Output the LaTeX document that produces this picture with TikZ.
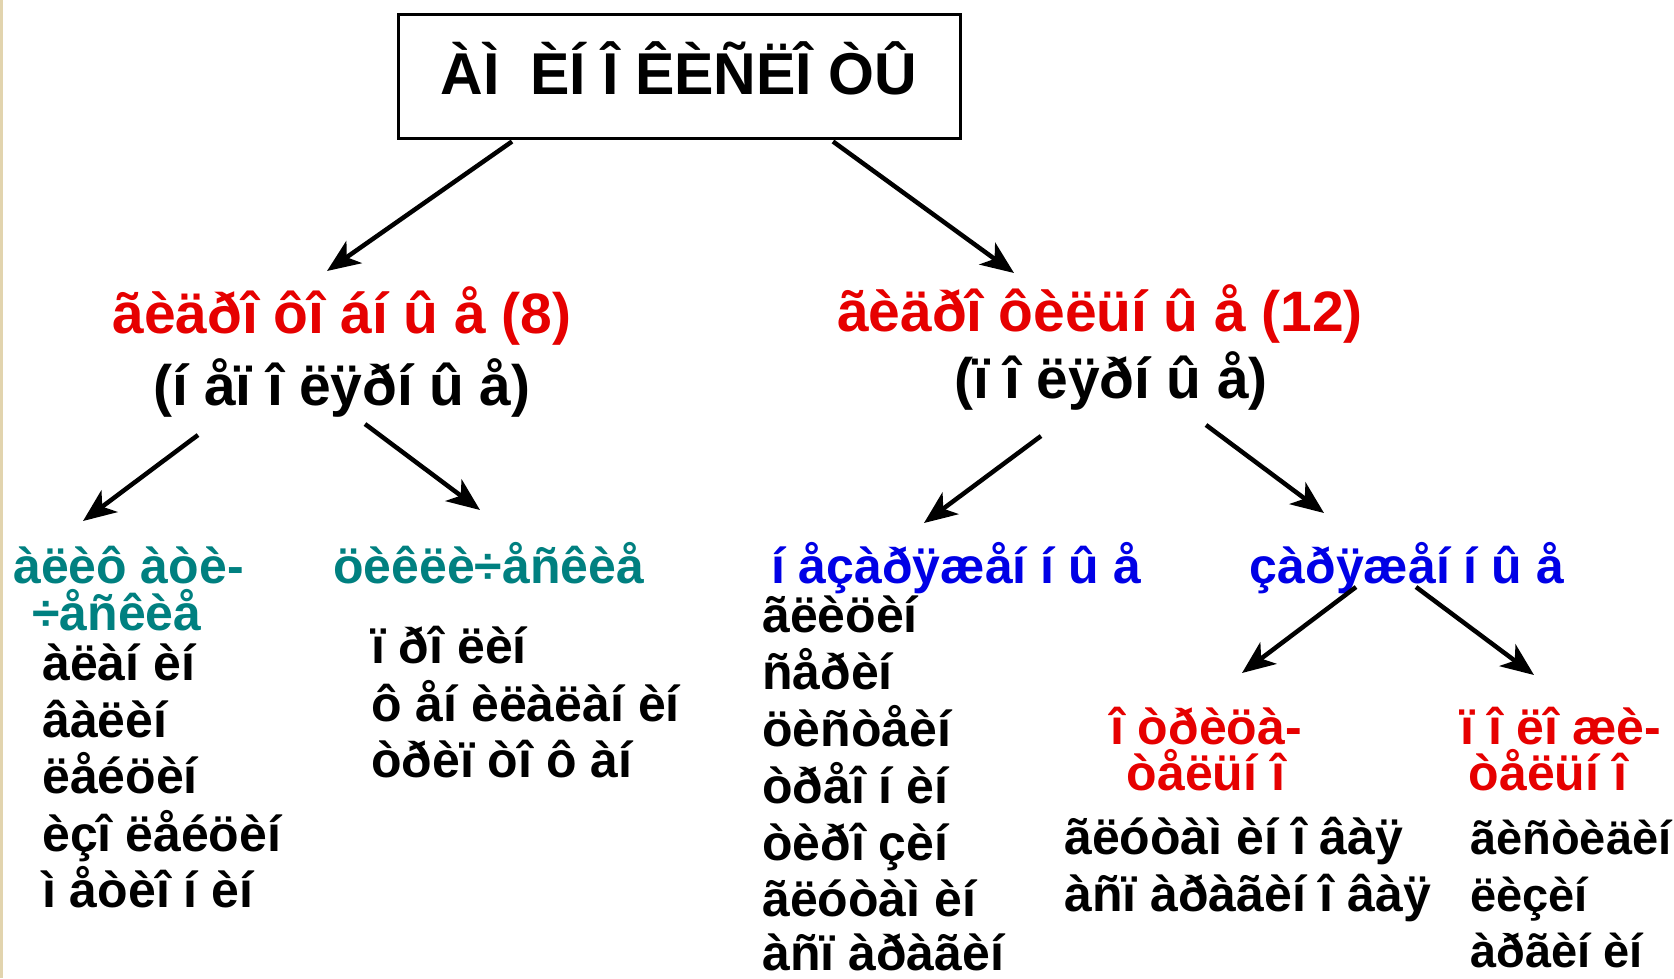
\documentclass[tikz,border=0pt]{standalone}
\usepackage{fontspec}
\setmainfont{Liberation Sans}
\usetikzlibrary{arrows.meta,calc}
\definecolor{hdred}{RGB}{230,0,0}
\definecolor{hdteal}{RGB}{0,128,128}
\definecolor{hdblue}{RGB}{0,0,230}
\definecolor{edgetan}{RGB}{226,212,174}
\begin{document}
\begin{tikzpicture}[x=1pt,y=-1pt,
  every node/.style={inner sep=0pt},
  topbox/.style={draw,line width=3pt,minimum width=562pt,minimum height=124pt},
  toptext/.style={anchor=base,font=\fontsize{59}{59}\selectfont\bfseries},
  grouptext/.style={anchor=base,font=\fontsize{57}{57}\selectfont\bfseries},
  subtext/.style={font=\fontsize{50}{50}\selectfont\bfseries},
  itemtext/.style={anchor=base west,font=\fontsize{50}{50}\selectfont\bfseries},
  arr/.style={line width=4.5pt,-{Stealth[length=33pt,width=27pt,inset=9pt]}}]
\useasboundingbox (0,0) rectangle (1674,978);
\fill[white] (0,0) rectangle (1674,978);
\fill[edgetan] (0,0) rectangle (3,978);

% root
\node[topbox] (title) at (679,76) {};
\node[toptext] (titletext) at (679,94) {ÀÌ\kern14pt{} ÈÍ Î ÊÈÑËÎ ÒÛ};

% second level
\node[grouptext,text=hdred] (hyd1) at (342,333) {ãèäðî ôî áí û å (8)};
\node[grouptext] (np) at (342,405) {(í åï î ëÿðí û å)};
\node[grouptext,text=hdred] (hyd2) at (1100,331) {ãèäðî ôèëüí û å (12)};
\node[grouptext] (pol) at (1111,398) {(ï î ëÿðí û å)};

% non-polar branches
\node[subtext,anchor=base west,text=hdteal] (ali1) at (13,583) {àëèô àòè-};
\node[subtext,anchor=base west,text=hdteal] (ali2) at (32,630) {÷åñêèå};
\node[itemtext] (a1) at (42,680) {àëàí èí};
\node[itemtext] (a2) at (42,737) {âàëèí};
\node[itemtext] (a3) at (42,793) {ëåéöèí};
\node[itemtext] (a4) at (42,851) {èçî ëåéöèí};
\node[itemtext] (a5) at (42,907) {ì åòèî í èí};

\node[subtext,anchor=base west,text=hdteal] (cyc) at (333,583) {öèêëè÷åñêèå};
\node[itemtext] (c1) at (371,663) {ï ðî ëèí};
\node[itemtext] (c2) at (371,721) {ô åí èëàëàí èí};
\node[itemtext] (c3) at (371,777) {òðèï òî ô àí};

% polar branches
\node[subtext,anchor=base west,text=hdblue] (unch) at (771,583) {í åçàðÿæåí í û å};
\node[itemtext] (u1) at (762,632) {ãëèöèí};
\node[itemtext] (u2) at (762,689) {ñåðèí};
\node[itemtext] (u3) at (762,746) {öèñòåèí};
\node[itemtext] (u4) at (762,803) {òðåî í èí};
\node[itemtext] (u5) at (762,860) {òèðî çèí};
\node[itemtext] (u6) at (762,916) {ãëóòàì èí};
\node[itemtext] (u7) at (762,970) {àñï àðàãèí};

\node[subtext,anchor=base,text=hdblue] (chg) at (1407,583) {çàðÿæåí í û å};

\node[subtext,anchor=base,text=hdred] (neg1) at (1206,744) {î òðèöà-};
\node[subtext,anchor=base,text=hdred] (neg2) at (1206,790) {òåëüí î};
\node[itemtext] (n1) at (1064,854) {ãëóòàì èí î âàÿ};
\node[itemtext] (n2) at (1064,911) {àñï àðàãèí î âàÿ};

\node[subtext,anchor=base,text=hdred] (pos1) at (1561,744) {ï î ëî æè-};
\node[subtext,anchor=base,text=hdred] (pos2) at (1548,790) {òåëüí î};
\node[itemtext,font=\fontsize{47}{47}\selectfont\bfseries] (p1) at (1470,854) {ãèñòèäèí};
\node[itemtext,font=\fontsize{47}{47}\selectfont\bfseries] (p2) at (1470,911) {ëèçèí};
\node[itemtext,font=\fontsize{47}{47}\selectfont\bfseries] (p3) at (1470,967) {àðãèí èí};

% connectors
\draw[arr] ($(title.south)+(-167,2)$) -- ($(hyd1.base)+(-15,-62)$);
\draw[arr] ($(title.south)+(154,2)$) -- ($(hyd2.base)+(-86,-58)$);
\draw[arr] ($(np.base)+(-144,30)$) -- ($(ali1.base west)+(70,-62)$);
\draw[arr] ($(np.base)+(23,19)$) -- ($(cyc.base west)+(147,-73)$);
\draw[arr] ($(pol.base)+(-70,38)$) -- ($(unch.base west)+(153,-60)$);
\draw[arr] ($(pol.base)+(95,27)$) -- ($(chg.base)+(-83,-70)$);
\draw[arr] ($(chg.base)+(-51,4)$) -- ($(neg1.base)+(36,-71)$);
\draw[arr] ($(chg.base)+(9,4)$) -- ($(pos1.base)+(-27,-69)$);
\end{tikzpicture}
\end{document}
